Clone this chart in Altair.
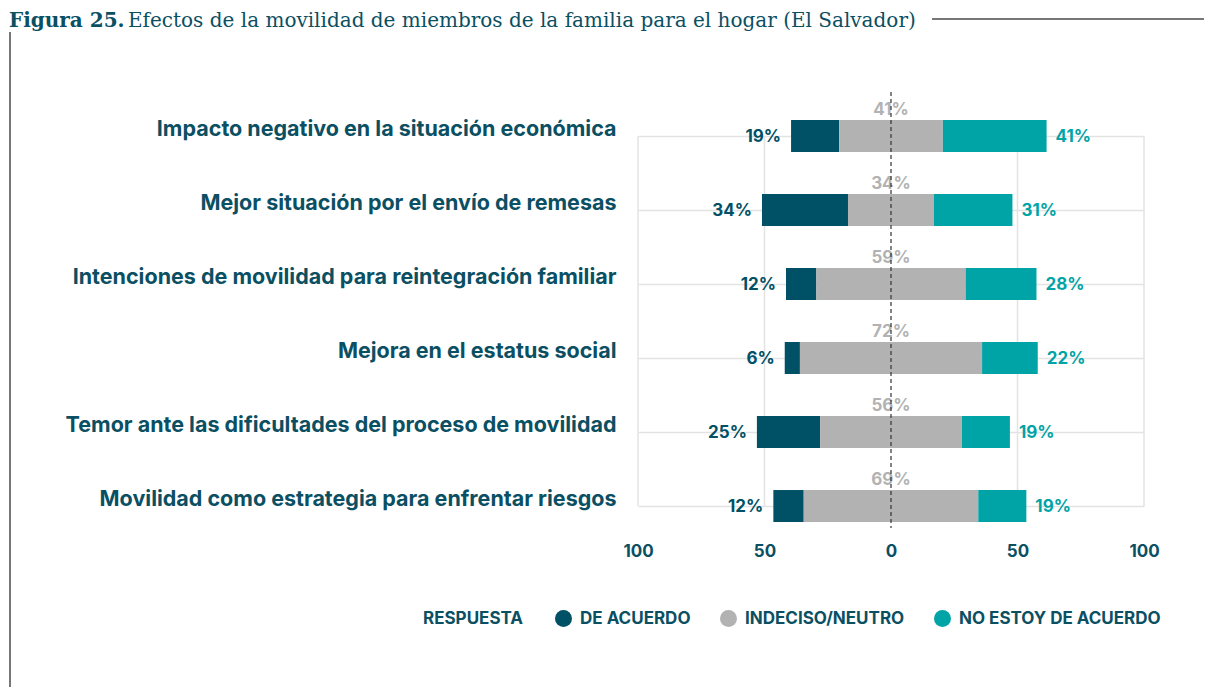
import altair as alt
import pandas as pd

categories = [
    "Impacto negativo en la situación económica",
    "Mejor situación por el envío de remesas",
    "Intenciones de movilidad para reintegración familiar",
    "Mejora en el estatus social",
    "Temor ante las dificultades del proceso de movilidad",
    "Movilidad como estrategia para enfrentar riesgos",
]
de_acuerdo = [19, 34, 12, 6, 25, 12]
neutro = [41, 34, 59, 72, 56, 69]
no_acuerdo = [41, 31, 28, 22, 19, 19]
responses = ["DE ACUERDO", "INDECISO/NEUTRO", "NO ESTOY DE ACUERDO"]
colors = ["#005066", "#b2b2b2", "#00a3a6"]
x_ticks = [-100, -50, 0, 50, 100]
grid_x = [-100, -50, 50, 100]
title_bold = "Figura 25."
title_rest = "Efectos de la movilidad de miembros de la familia para el hogar (El Salvador)"

TEXT = "#0b4f63"
FONT = "Inter"

seg_rows, lab_rows = [], []
for c, a, n, d in zip(categories, de_acuerdo, neutro, no_acuerdo):
    seg_rows.append(dict(cat=c, resp=responses[0], start=-n / 2 - a, end=-n / 2))
    seg_rows.append(dict(cat=c, resp=responses[1], start=-n / 2, end=n / 2))
    seg_rows.append(dict(cat=c, resp=responses[2], start=n / 2, end=n / 2 + d))
    lab_rows.append(dict(cat=c, xa=-n / 2 - a, la=f"{a}%", xn=0, ln=f"{n}%",
                         xd=n / 2 + d, ld=f"{d}%"))
seg = pd.DataFrame(seg_rows)
labs = pd.DataFrame(lab_rows)
grid_df = pd.DataFrame({"x": grid_x, "y1": categories[0], "y2": categories[-1]})

W, H = 506, 430
yscale = alt.Scale(domain=categories, paddingInner=0.568, paddingOuter=0.19, align=0.893)
xscale = alt.Scale(domain=[-100, 100], nice=False, zero=False)

yaxis = alt.Axis(title=None, grid=True, bandPosition=0.5, gridColor="#e3e3e3", gridWidth=1.5,
                 domain=False, ticks=False, labelFontSize=21.5, labelFont=FONT,
                 labelFontWeight="bold", labelColor=TEXT, labelPadding=22, labelLimit=700,
                 labelOffset=-6)
xaxis = alt.Axis(title=None, values=x_ticks, labelExpr="abs(datum.value)", grid=False,
                 domain=False, ticks=False, labelFontSize=17, labelFont=FONT, labelFlush=False,
                 labelFontWeight="bold", labelColor=TEXT, labelPadding=18)
legend = alt.Legend(title="RESPUESTA", orient="none", legendX=-215, legendY=515,
                    direction="horizontal", titleOrient="left", symbolType="circle",
                    symbolSize=289, symbolStrokeWidth=0, symbolOpacity=1, labelLimit=400,
                    labelFontSize=17, labelFont=FONT, labelFontWeight="bold", labelColor=TEXT,
                    titleFontSize=17, titleFont=FONT, titleFontWeight="bold", titleColor=TEXT,
                    titlePadding=31, columnPadding=29, labelOffset=8, titleBaseline="middle")

Y = lambda f: alt.Y(f, scale=yscale, axis=yaxis)
X = lambda f: alt.X(f, scale=xscale, axis=xaxis)

grid = alt.Chart(grid_df).mark_rule(color="#e3e3e3", strokeWidth=1.5).encode(
    x=X("x:Q"), y=Y("y1:N"), y2="y2:N",
)
bars = alt.Chart(seg).mark_bar().encode(
    x=X("start:Q"), x2="end:Q", y=Y("cat:N"),
    color=alt.Color("resp:N", scale=alt.Scale(domain=responses, range=colors), legend=legend),
)
tstyle = dict(fontSize=17, font=FONT, fontWeight="bold", baseline="middle")
t_a = alt.Chart(labs).mark_text(align="right", dx=-10, dy=1, color="#005066", **tstyle).encode(
    x=X("xa:Q"), y=Y("cat:N"), text="la:N")
t_n = alt.Chart(labs).mark_text(align="center", dy=-26, color="#b2b2b2", **tstyle).encode(
    x=X("xn:Q"), y=Y("cat:N"), text="ln:N")
t_d = alt.Chart(labs).mark_text(align="left", dx=9, dy=1, color="#00a3a6", **tstyle).encode(
    x=X("xd:Q"), y=Y("cat:N"), text="ld:N")

one = alt.Data(values=[{}])
zero = alt.Chart(one).mark_rule(color="#333333", strokeWidth=1.2, strokeDash=[4, 3]).encode(
    x=alt.X(datum=0, scale=xscale, axis=xaxis), y=alt.value(-3), y2=alt.value(H + 3))

title_a = alt.Chart(one).mark_text(text=title_bold, align="left", baseline="alphabetic",
                                   font="DejaVu Serif", fontSize=20, fontWeight="bold",
                                   color=TEXT).encode(x=alt.value(-629), y=alt.value(-68))
title_b = alt.Chart(one).mark_text(text=title_rest, align="left", baseline="alphabetic",
                                   font="DejaVu Serif", fontSize=20, color=TEXT).encode(
    x=alt.value(-510), y=alt.value(-68))
hline = alt.Chart(one).mark_rule(color="#777777", strokeWidth=2).encode(
    x=alt.value(294), x2=alt.value(575), y=alt.value(-76))
vline = alt.Chart(one).mark_rule(color="#777777", strokeWidth=2).encode(
    x=alt.value(-628), y=alt.value(-63), y2=alt.value(600))

chart = alt.layer(grid, bars, t_a, t_n, t_d, zero, title_a, title_b, hline, vline).properties(
    width=W, height=H,
    autosize=alt.AutoSizeParams(type="none"),
    padding={"left": 630, "top": 87, "right": 60, "bottom": 162},
).configure_view(stroke=None)

chart.save("out.html", embed_options={"renderer": "svg", "actions": False})
